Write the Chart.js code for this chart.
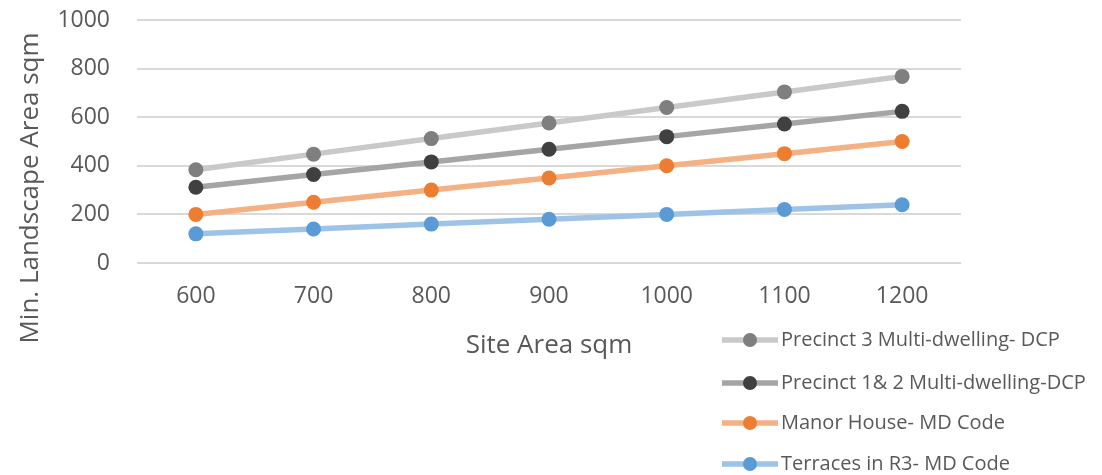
<!DOCTYPE html>
<html>
<head>
<meta charset="utf-8">
<script src="https://cdn.jsdelivr.net/npm/chart.js@4.4.0/dist/chart.umd.min.js"></script>
<style>
  html, body { margin: 0; padding: 0; background: #ffffff; }
  #wrap { width: 1102px; height: 475px; position: relative; }
</style>
</head>
<body>
<div id="wrap"><canvas id="c" width="1102" height="475"></canvas></div>
<script>
const siteAreas = ['600', '700', '800', '900', '1000', '1100', '1200'];
const precinct3 = [384, 448, 512, 576, 640, 704, 768];
const precinct12 = [312, 364, 416, 468, 520, 572, 624];
const manorHouse = [200, 250, 300, 350, 400, 450, 500];
const terracesR3 = [120, 140, 160, 180, 200, 220, 240];
const seriesNames = ['Precinct 3 Multi-dwelling- DCP', 'Precinct 1& 2 Multi-dwelling-DCP', 'Manor House- MD Code', 'Terraces in R3- MD Code'];
const yTicks = [0, 200, 400, 600, 800, 1000];
const xTitle = 'Site Area sqm';
const yTitle = 'Min. Landscape Area sqm';

const TEXT = '#595959';
const FONT = '"Open Sans", "Noto Sans", sans-serif';

function ds(label, data, line, point) {
  return {
    label, data,
    borderColor: line, backgroundColor: point,
    pointBackgroundColor: point, pointBorderColor: point,
    borderWidth: 5.5, pointRadius: 7.5, pointHoverRadius: 7.5, pointBorderWidth: 0,
    tension: 0, fill: false, clip: false
  };
}

const decor = {
  id: 'decor',
  afterDraw(chart) {
    const ctx = chart.ctx;
    const ca = chart.chartArea;
    ctx.save();
    ctx.fillStyle = TEXT;
    // x title
    ctx.font = '26px ' + FONT;
    ctx.textAlign = 'center';
    ctx.textBaseline = 'middle';
    ctx.fillText(xTitle, (ca.left + ca.right) / 2, 346);
    // y title
    ctx.save();
    ctx.translate(31, 188);
    ctx.rotate(-Math.PI / 2);
    ctx.fillText(yTitle, 0, 0);
    ctx.restore();
    // legend
    const rows = [340, 383, 423, 464];
    ctx.font = '20px ' + FONT;
    ctx.textAlign = 'left';
    chart.data.datasets.forEach((d, i) => {
      const y = rows[i];
      ctx.strokeStyle = d.borderColor;
      ctx.lineWidth = 5.5;
      ctx.beginPath();
      ctx.moveTo(722, y);
      ctx.lineTo(778, y);
      ctx.stroke();
      ctx.fillStyle = d.pointBackgroundColor;
      ctx.beginPath();
      ctx.arc(750, y, 7, 0, Math.PI * 2);
      ctx.fill();
      ctx.fillStyle = TEXT;
      ctx.fillText(d.label, 781, y);
    });
    ctx.restore();
  }
};

new Chart(document.getElementById('c'), {
  type: 'line',
  data: {
    labels: siteAreas,
    datasets: [
      ds(seriesNames[0], precinct3, '#C9C9C9', '#7F7F7F'),
      ds(seriesNames[1], precinct12, '#A5A5A5', '#404040'),
      ds(seriesNames[2], manorHouse, '#F4B183', '#ED7D31'),
      ds(seriesNames[3], terracesR3, '#9DC3E6', '#5B9BD5')
    ]
  },
  options: {
    responsive: false,
    animation: false,
    events: [],
    layout: { autoPadding: false, padding: { left: 0, right: 141, top: 20, bottom: 0 } },
    plugins: { legend: { display: false }, tooltip: { enabled: false } },
    scales: {
      x: {
        type: 'category',
        offset: true,
        grid: { display: false, drawTicks: false },
        border: { display: false },
        ticks: { color: TEXT, font: { family: FONT, size: 23 }, padding: 20, maxRotation: 0 },
        afterFit(s) { s.height = 475 - 263; s.paddingLeft = 0; s.paddingRight = 0; }
      },
      y: {
        min: 0, max: 1000,
        afterBuildTicks(s) { s.ticks = yTicks.map(v => ({ value: v })); },
        grid: { color: '#D9D9D9', lineWidth: 2, drawTicks: false },
        border: { display: false },
        ticks: { color: TEXT, font: { family: FONT, size: 23 }, padding: 27, callback: v => String(v) },
        afterFit(s) { s.width = 137; s.paddingTop = 0; s.paddingBottom = 0; }
      }
    }
  },
  plugins: [decor]
});
</script>
</body>
</html>
